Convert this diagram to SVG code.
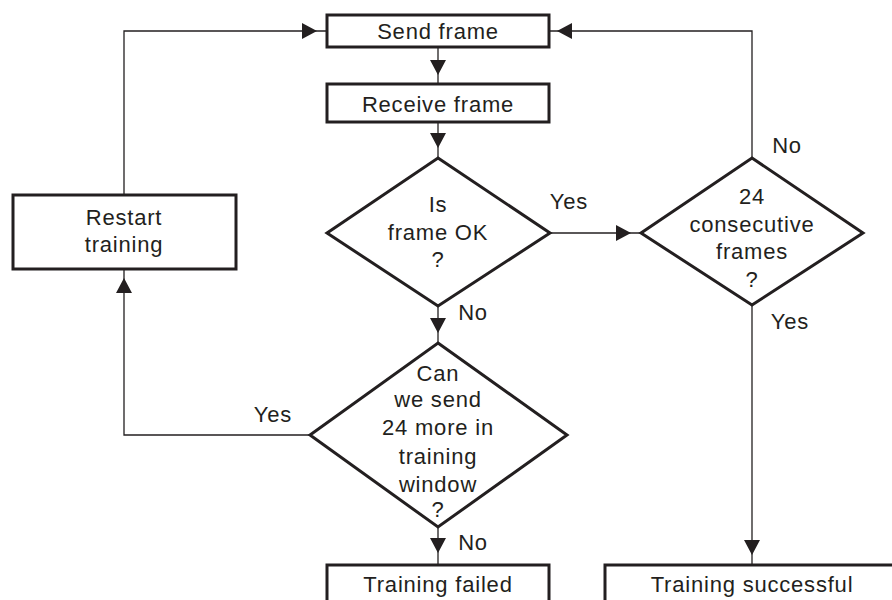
<svg xmlns="http://www.w3.org/2000/svg" width="892" height="600" viewBox="0 0 892 600">
<style>
.box{fill:#fff;stroke:#231f20;stroke-width:3}
.ln{fill:none;stroke:#231f20;stroke-width:1.3}
.t{font-family:"Liberation Sans",Arial,sans-serif;font-size:22px;letter-spacing:0.8px;fill:#231f20;text-anchor:middle}
.ah{fill:#231f20}
</style>
<defs>
<path id="arr" class="ah" d="M0,0 L-15,-8 L-15,8 Z"/>
</defs>
<rect width="892" height="600" fill="#fff"/>
<g id="connectors">
<path class="ln" d="M438,47 V84"/>
<use href="#arr" transform="translate(438,75) rotate(90)"/>
<path class="ln" d="M438,122 V158"/>
<use href="#arr" transform="translate(438,148) rotate(90)"/>
<path class="ln" d="M550,233 H641"/>
<use href="#arr" transform="translate(631,233)"/>
<path class="ln" d="M752,158 V31 H549"/>
<use href="#arr" transform="translate(557,31) rotate(180)"/>
<path class="ln" d="M752,305 V565"/>
<use href="#arr" transform="translate(752,555) rotate(90)"/>
<path class="ln" d="M438,306 V343"/>
<use href="#arr" transform="translate(438,333) rotate(90)"/>
<path class="ln" d="M438,527 V565"/>
<use href="#arr" transform="translate(438,553) rotate(90)"/>
<path class="ln" d="M310,435 H124 V269"/>
<use href="#arr" transform="translate(124,278) rotate(-90)"/>
<path class="ln" d="M124,195 V31 H327"/>
<use href="#arr" transform="translate(317,31)"/>
<text class="t" x="569" y="209">Yes</text>
<text class="t" x="787" y="153">No</text>
<text class="t" x="790" y="329">Yes</text>
<text class="t" x="473" y="320">No</text>
<text class="t" x="473" y="550">No</text>
<text class="t" x="273" y="422">Yes</text>
</g>
<g id="send">
<rect class="box" x="327" y="15" width="222" height="32"/>
<text class="t" x="438" y="39">Send frame</text>
</g>
<g id="receive">
<rect class="box" x="327" y="84" width="222" height="38"/>
<text class="t" x="438" y="112">Receive frame</text>
</g>
<g id="frameok">
<polygon class="box" points="438,158 550,233 438,306 327,233"/>
<text class="t" x="438" y="212">Is</text>
<text class="t" x="438" y="240">frame OK</text>
<text class="t" x="438" y="267">?</text>
</g>
<g id="consecutive">
<polygon class="box" points="752,158 863,233 752,305 641,233"/>
<text class="t" x="752" y="204">24</text>
<text class="t" x="752" y="232">consecutive</text>
<text class="t" x="752" y="259">frames</text>
<text class="t" x="752" y="287">?</text>
</g>
<g id="cansend">
<polygon class="box" points="438,343 567,435 438,527 310,435"/>
<text class="t" x="438" y="381">Can</text>
<text class="t" x="438" y="407">we send</text>
<text class="t" x="438" y="435">24 more in</text>
<text class="t" x="438" y="464">training</text>
<text class="t" x="438" y="492">window</text>
<text class="t" x="438" y="517">?</text>
</g>
<g id="restart">
<rect class="box" x="13" y="195" width="223" height="74"/>
<text class="t" x="124" y="225">Restart</text>
<text class="t" x="124" y="252">training</text>
</g>
<g id="failed">
<rect class="box" x="327" y="565" width="222" height="45"/>
<text class="t" x="438" y="592">Training failed</text>
</g>
<g id="successful">
<rect class="box" x="605" y="565" width="294" height="45"/>
<text class="t" x="752" y="592">Training successful</text>
</g>
</svg>
